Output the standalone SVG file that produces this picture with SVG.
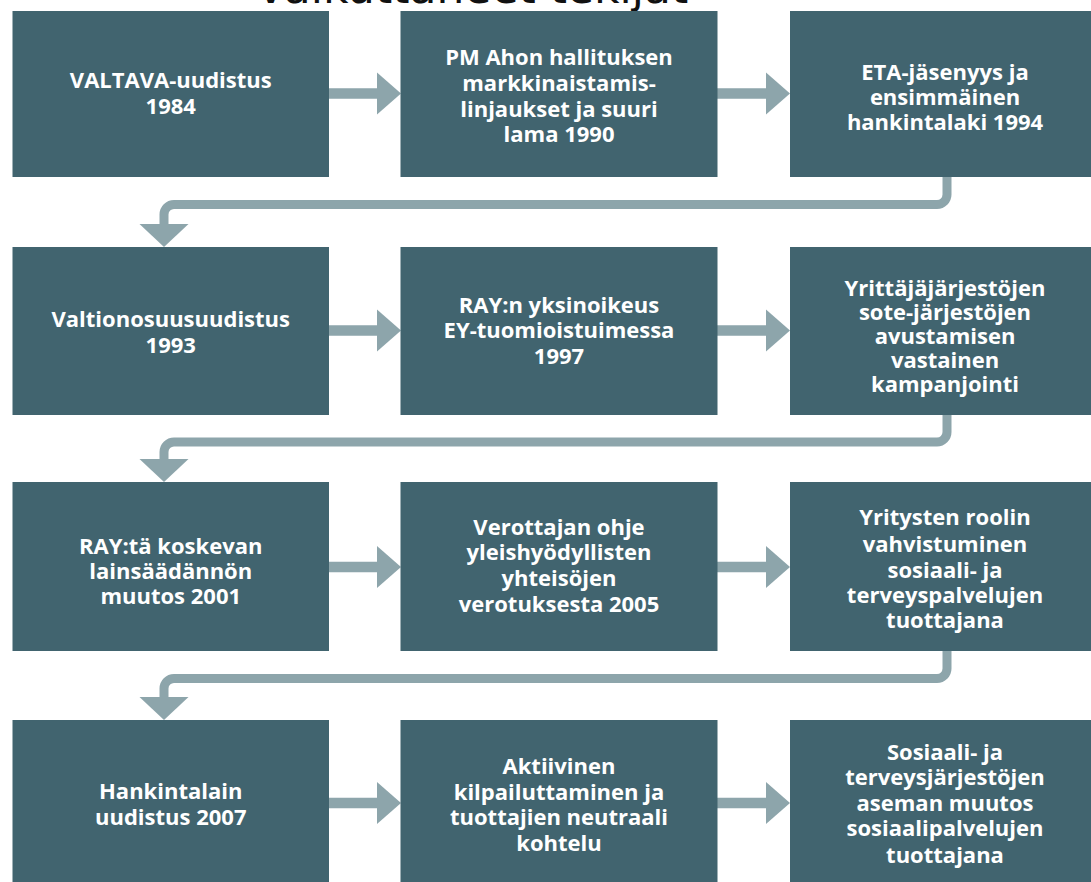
<svg xmlns="http://www.w3.org/2000/svg" width="1091" height="882" viewBox="0 0 1091 882">
<style>
.box{fill:#41646f}
.t{font-family:"Open Sans","Liberation Sans",sans-serif;font-weight:700;font-size:22px;fill:#ffffff;text-anchor:middle}
.title{font-family:"DejaVu Sans",sans-serif;font-size:44px;fill:#111111;text-anchor:middle}
.shaft{stroke:#8da5ab;stroke-width:10.5;fill:none}
.ret{stroke:#8da5ab;stroke-width:9;fill:none}
.head{fill:#8da5ab}
</style>
<rect width="1091" height="882" fill="#ffffff"/>
<text class="title" x="473" y="3">vaikuttaneet tekijät</text>

<g id="connectors">
  <!-- row 1 -->
  <line class="shaft" x1="329" y1="93.5" x2="378" y2="93.5"/>
  <polygon class="head" points="377,72.5 377,114.5 401,93.5"/>
  <line class="shaft" x1="717" y1="93.5" x2="767" y2="93.5"/>
  <polygon class="head" points="766,72.5 766,114.5 790,93.5"/>
  <path class="ret" d="M947,177 V194.5 A10,10 0 0 1 937,204.5 H174 A10,10 0 0 0 164,214.5 V226"/>
  <polygon class="head" points="139.5,224 188.5,224 164,247"/>
  <!-- row 2 -->
  <line class="shaft" x1="329" y1="330.5" x2="378" y2="330.5"/>
  <polygon class="head" points="377,309.5 377,351.5 401,330.5"/>
  <line class="shaft" x1="717" y1="330.5" x2="767" y2="330.5"/>
  <polygon class="head" points="766,309.5 766,351.5 790,330.5"/>
  <path class="ret" d="M947,415 V432 A10,10 0 0 1 937,442 H174 A10,10 0 0 0 164,452 V461"/>
  <polygon class="head" points="139.5,459 188.5,459 164,482"/>
  <!-- row 3 -->
  <line class="shaft" x1="329" y1="567" x2="378" y2="567"/>
  <polygon class="head" points="377,546 377,588 401,567"/>
  <line class="shaft" x1="717" y1="567" x2="767" y2="567"/>
  <polygon class="head" points="766,546 766,588 790,567"/>
  <path class="ret" d="M947,651 V668.5 A10,10 0 0 1 937,678.5 H174 A10,10 0 0 0 164,688.5 V699"/>
  <polygon class="head" points="139.5,697 188.5,697 164,720"/>
  <!-- row 4 -->
  <line class="shaft" x1="329" y1="803" x2="378" y2="803"/>
  <polygon class="head" points="377,782 377,824 401,803"/>
  <line class="shaft" x1="717" y1="803" x2="767" y2="803"/>
  <polygon class="head" points="766,782 766,824 790,803"/>
</g>

<g id="n1"><rect class="box" x="12.5" y="11" width="316.5" height="166"/>
<text class="t" x="170.75"><tspan x="170.75" y="88">VALTAVA-uudistus</tspan><tspan x="170.75" y="114">1984</tspan></text></g>
<g id="n2"><rect class="box" x="400.5" y="11" width="317" height="166"/>
<text class="t"><tspan x="559" y="65">PM Ahon hallituksen</tspan><tspan x="559" y="91">markkinaistamis-</tspan><tspan x="559" y="117">linjaukset ja suuri</tspan><tspan x="559" y="142">lama 1990</tspan></text></g>
<g id="n3"><rect class="box" x="790" y="11" width="317" height="166"/>
<text class="t"><tspan x="945" y="80">ETA-jäsenyys ja</tspan><tspan x="945" y="105">ensimmäinen</tspan><tspan x="945" y="130">hankintalaki 1994</tspan></text></g>

<g id="n4"><rect class="box" x="12.5" y="247" width="316.5" height="168"/>
<text class="t"><tspan x="170.75" y="327">Valtionosuusuudistus</tspan><tspan x="170.75" y="353">1993</tspan></text></g>
<g id="n5"><rect class="box" x="400.5" y="247" width="317" height="168"/>
<text class="t"><tspan x="559" y="313">RAY:n yksinoikeus</tspan><tspan x="559" y="338">EY-tuomioistuimessa</tspan><tspan x="559" y="364">1997</tspan></text></g>
<g id="n6"><rect class="box" x="790" y="247" width="317" height="168"/>
<text class="t"><tspan x="945" y="296">Yrittäjäjärjestöjen</tspan><tspan x="945" y="320">sote-järjestöjen</tspan><tspan x="945" y="344">avustamisen</tspan><tspan x="945" y="368">vastainen</tspan><tspan x="945" y="392">kampanjointi</tspan></text></g>

<g id="n7"><rect class="box" x="12.5" y="482" width="316.5" height="169"/>
<text class="t"><tspan x="170.75" y="554">RAY:tä koskevan</tspan><tspan x="170.75" y="579">lainsäädännön</tspan><tspan x="170.75" y="604">muutos 2001</tspan></text></g>
<g id="n8"><rect class="box" x="400.5" y="482" width="317" height="169"/>
<text class="t"><tspan x="559" y="535">Verottajan ohje</tspan><tspan x="559" y="560">yleishyödyllisten</tspan><tspan x="559" y="586">yhteisöjen</tspan><tspan x="559" y="612">verotuksesta 2005</tspan></text></g>
<g id="n9"><rect class="box" x="790" y="482" width="317" height="169"/>
<text class="t"><tspan x="945" y="525">Yritysten roolin</tspan><tspan x="945" y="552">vahvistuminen</tspan><tspan x="945" y="578">sosiaali- ja</tspan><tspan x="945" y="603">terveyspalvelujen</tspan><tspan x="945" y="628">tuottajana</tspan></text></g>

<g id="n10"><rect class="box" x="12.5" y="720" width="316.5" height="170"/>
<text class="t"><tspan x="170.75" y="799">Hankintalain</tspan><tspan x="170.75" y="825">uudistus 2007</tspan></text></g>
<g id="n11"><rect class="box" x="400.5" y="720" width="317" height="170"/>
<text class="t"><tspan x="559" y="774">Aktiivinen</tspan><tspan x="559" y="800">kilpailuttaminen ja</tspan><tspan x="559" y="825">tuottajien neutraali</tspan><tspan x="559" y="851">kohtelu</tspan></text></g>
<g id="n12"><rect class="box" x="790" y="720" width="317" height="170"/>
<text class="t"><tspan x="945" y="760">Sosiaali- ja</tspan><tspan x="945" y="785">terveysjärjestöjen</tspan><tspan x="945" y="811">aseman muutos</tspan><tspan x="945" y="836">sosiaalipalvelujen</tspan><tspan x="945" y="863">tuottajana</tspan></text></g>
</svg>
